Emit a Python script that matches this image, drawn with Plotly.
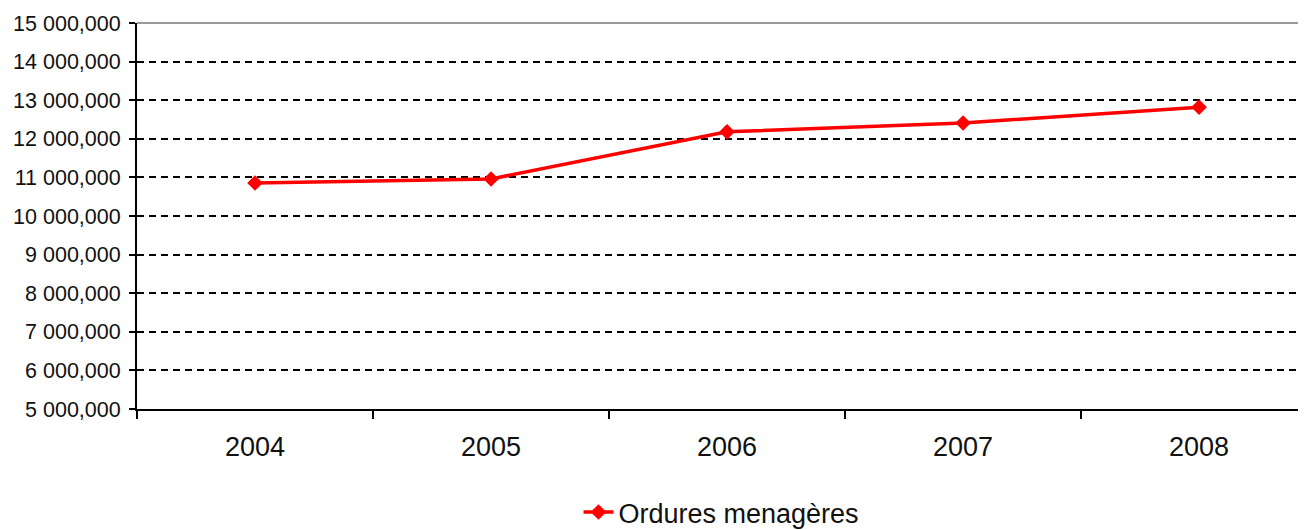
import plotly.graph_objects as go

# data
years = ['2004', '2005', '2006', '2007', '2008']
ordures = [10855000, 10960000, 12180000, 12410000, 12820000]

y_ticks = [5000000, 6000000, 7000000, 8000000, 9000000, 10000000,
           11000000, 12000000, 13000000, 14000000, 15000000]
y_labels = ['5 000,000', '6 000,000', '7 000,000', '8 000,000', '9 000,000',
            '10 000,000', '11 000,000', '12 000,000', '13 000,000',
            '14 000,000', '15 000,000']

fig = go.Figure(go.Scatter(
    x=years,
    y=ordures,
    mode='lines+markers',
    name='Ordures menagères',
    line=dict(color='#ff0000', width=3.5),
    marker=dict(symbol='diamond', size=12, color='#ff0000'),
))

# page body has an 8px margin, so sizes are trimmed to land in the same spot
fig.update_layout(
    width=1298,
    height=545,
    margin=dict(l=129, r=0, t=15, b=144),
    plot_bgcolor='white',
    paper_bgcolor='white',
    font=dict(family='Liberation Sans, Arial, sans-serif', color='#111111'),
    showlegend=True,
    legend=dict(
        orientation='h',
        x=0.5, xanchor='center',
        y=-0.268, yanchor='middle',
        font=dict(size=27),
    ),
    xaxis=dict(
        type='category',
        range=[-0.5, 4.453],
        automargin=False,
        showline=True, linecolor='#000000', linewidth=2,
        ticks='outside', tickson='boundaries', ticklen=8,
        tickcolor='#000000', tickwidth=1.5,
        showgrid=False,
        tickfont=dict(size=27),
        ticklabelstandoff=13,
    ),
    yaxis=dict(
        range=[5000000, 15000000],
        automargin=False,
        tickvals=y_ticks,
        ticktext=y_labels,
        showline=True, linecolor='#000000', linewidth=2,
        ticks='outside', ticklen=6, tickcolor='#000000', tickwidth=1.5,
        showgrid=True, gridcolor='#000000', gridwidth=1.5,
        griddash='7px,5px',
        zeroline=False,
        tickfont=dict(size=21.5),
        ticklabelstandoff=4,
    ),
    shapes=[dict(
        type='line', xref='paper', yref='paper',
        x0=0, x1=1, y0=1, y1=1,
        line=dict(color='#999999', width=2),
    )],
)

fig.write_html('out.html')
